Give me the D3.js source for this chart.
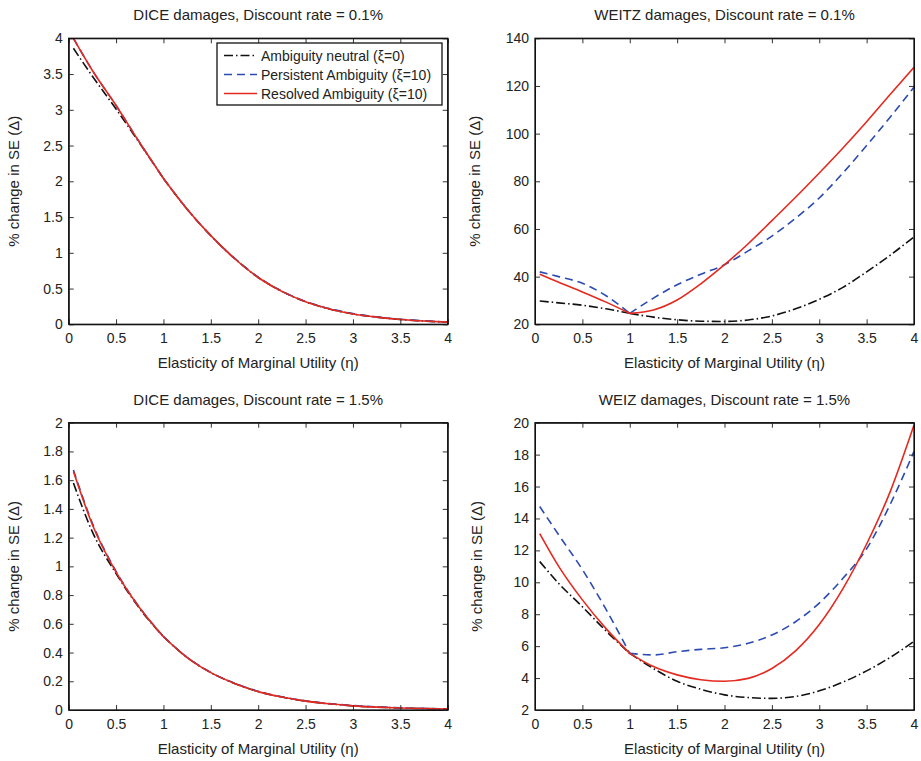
<!DOCTYPE html>
<html>
<head>
<meta charset="utf-8">
<script src="https://cdn.jsdelivr.net/npm/d3@7"></script>
<style>
  body { margin: 0; background: #fff; }
  svg { font-family: "Liberation Sans", Arial, Helvetica, sans-serif; }
  .tick text { font-size: 14px; fill: #222; }
</style>
</head>
<body>
<svg id="chart" width="921" height="761"></svg>
<script>
// valores (eta = elasticidad de la utilidad marginal)
var eta = [0.05, 0.25, 0.5, 0.75, 1, 1.25, 1.5, 1.75, 2, 2.25, 2.5, 2.75, 3, 3.25, 3.5, 3.75, 4];

var diceLowNeutral    = [3.86, 3.47, 3.01, 2.53, 2.04, 1.61, 1.24, 0.92, 0.655, 0.46, 0.315, 0.215, 0.145, 0.1, 0.068, 0.046, 0.03];
var diceLowPersistent = [4.0, 3.55, 3.06, 2.54, 2.04, 1.61, 1.24, 0.925, 0.66, 0.465, 0.32, 0.22, 0.15, 0.104, 0.07, 0.048, 0.032];
var diceLowResolved   = [4.0, 3.55, 3.06, 2.54, 2.04, 1.61, 1.24, 0.92, 0.655, 0.46, 0.315, 0.215, 0.145, 0.1, 0.068, 0.046, 0.03];

var weitzLowNeutral    = [29.8, 29.0, 28.0, 26.5, 24.6, 23.0, 21.9, 21.3, 21.2, 21.8, 23.5, 26.5, 30.5, 35.5, 42.0, 49.0, 56.7];
var weitzLowPersistent = [42.0, 40.0, 37.2, 32.0, 24.6, 31.0, 36.6, 41.0, 45.0, 50.8, 57.0, 64.5, 73.0, 83.5, 95.0, 107.0, 119.5];
var weitzLowResolved   = [41.0, 37.6, 33.6, 29.3, 24.6, 26.0, 30.2, 37.0, 45.0, 53.8, 63.5, 73.3, 83.5, 94.0, 105.0, 116.5, 127.8];

var diceHighNeutral    = [1.58, 1.24, 0.95, 0.705, 0.51, 0.365, 0.26, 0.185, 0.128, 0.09, 0.062, 0.043, 0.029, 0.02, 0.014, 0.01, 0.007];
var diceHighPersistent = [1.67, 1.3, 0.965, 0.712, 0.512, 0.367, 0.262, 0.187, 0.13, 0.092, 0.064, 0.045, 0.031, 0.022, 0.015, 0.011, 0.008];
var diceHighResolved   = [1.66, 1.29, 0.96, 0.71, 0.51, 0.365, 0.26, 0.185, 0.128, 0.09, 0.062, 0.043, 0.029, 0.02, 0.014, 0.01, 0.007];

var weizHighNeutral    = [11.3, 9.93, 8.47, 6.95, 5.55, 4.6, 3.8, 3.3, 2.95, 2.78, 2.73, 2.85, 3.2, 3.75, 4.45, 5.3, 6.3];
var weizHighPersistent = [14.75, 12.97, 10.8, 8.3, 5.55, 5.45, 5.65, 5.8, 5.9, 6.18, 6.7, 7.53, 8.7, 10.25, 12.1, 14.9, 18.2];
var weizHighResolved   = [13.05, 11.0, 8.9, 7.1, 5.55, 4.72, 4.2, 3.9, 3.8, 3.98, 4.6, 5.7, 7.35, 9.6, 12.4, 15.7, 19.85];

var xTicks = [0, 0.5, 1, 1.5, 2, 2.5, 3, 3.5, 4];
var yTicksDiceLow  = [0, 0.5, 1, 1.5, 2, 2.5, 3, 3.5, 4];
var yTicksWeitzLow = [20, 40, 60, 80, 100, 120, 140];
var yTicksDiceHigh = [0, 0.2, 0.4, 0.6, 0.8, 1, 1.2, 1.4, 1.6, 1.8, 2];
var yTicksWeizHigh = [2, 4, 6, 8, 10, 12, 14, 16, 18, 20];

var titles = [
  "DICE damages, Discount rate = 0.1%",
  "WEITZ damages, Discount rate = 0.1%",
  "DICE damages, Discount rate = 1.5%",
  "WEIZ damages, Discount rate = 1.5%"
];
var legendLabels = ["Ambiguity neutral (\u03BE=0)", "Persistent Ambiguity (\u03BE=10)", "Resolved Ambiguity (\u03BE=10)"];
var xLabel = "Elasticity of Marginal Utility (\u03B7)";
var yLabel = "% change in SE (\u0394)";

// estilos de cada serie
var styles = [
  { color: "#111111", dash: "9,3,1.5,3" },
  { color: "#2c4bb2", dash: "8,5" },
  { color: "#e5291f", dash: null }
];

var panels = [
  { title: titles[0], x0: 68.7, x1: 447.7, y0: 38.3, y1: 324.3, yDomain: [0, 4], yTicks: yTicksDiceLow, yOff: 50,
    series: [diceLowNeutral, diceLowPersistent, diceLowResolved], legend: true },
  { title: titles[1], x0: 535, x1: 914, y0: 38.3, y1: 324.3, yDomain: [20, 140], yTicks: yTicksWeitzLow, yOff: 55,
    series: [weitzLowNeutral, weitzLowPersistent, weitzLowResolved] },
  { title: titles[2], x0: 68.7, x1: 447.7, y0: 422.7, y1: 710, yDomain: [0, 2], yTicks: yTicksDiceHigh, yOff: 50,
    series: [diceHighNeutral, diceHighPersistent, diceHighResolved] },
  { title: titles[3], x0: 535, x1: 914, y0: 422.7, y1: 710, yDomain: [2, 20], yTicks: yTicksWeizHigh, yOff: 53,
    series: [weizHighNeutral, weizHighPersistent, weizHighResolved] }
];

var svg = d3.select("#chart");

panels.forEach(function(p, k) {
  var xScale = d3.scaleLinear().domain([0, 4]).range([p.x0, p.x1]);
  var yScale = d3.scaleLinear().domain(p.yDomain).range([p.y1, p.y0]);
  var grp = svg.append("g");

  // clip
  var clipId = "clip" + k;
  grp.append("clipPath").attr("id", clipId)
    .append("rect")
    .attr("x", p.x0).attr("y", p.y0 - 1)
    .attr("width", p.x1 - p.x0).attr("height", p.y1 - p.y0 + 1);

  var line = d3.line()
    .x(function(d) { return xScale(d[0]); })
    .y(function(d) { return yScale(d[1]); })
    .curve(d3.curveMonotoneX);

  // cada serie en dos tramos: eta <= 1 y eta >= 1
  p.series.forEach(function(vals, i) {
    var pts = eta.map(function(e, j) { return [e, vals[j]]; });
    var tramos = [pts.filter(function(d) { return d[0] <= 1; }), pts.filter(function(d) { return d[0] >= 1; })];
    tramos.forEach(function(t) {
      grp.append("path")
        .datum(t)
        .attr("clip-path", "url(#" + clipId + ")")
        .attr("d", line)
        .attr("fill", "none")
        .attr("stroke", styles[i].color)
        .attr("stroke-width", 1.6)
        .attr("stroke-dasharray", styles[i].dash);
    });
  });

  // Ejes (ticks hacia adentro, estilo matlab)
  grp.append("g")
    .attr("transform", "translate(0," + p.y1 + ")")
    .call(d3.axisBottom(xScale).tickValues(xTicks).tickSizeInner(-5).tickSizeOuter(0).tickPadding(9)
      .tickFormat(function(d) { return d; }));
  grp.append("g")
    .attr("transform", "translate(0," + p.y0 + ")")
    .call(d3.axisTop(xScale).tickValues(xTicks).tickSizeInner(-5).tickSizeOuter(0).tickFormat(""));
  grp.append("g")
    .attr("transform", "translate(" + p.x0 + ",0)")
    .call(d3.axisLeft(yScale).tickValues(p.yTicks).tickSizeInner(-5).tickSizeOuter(0).tickPadding(6)
      .tickFormat(function(d) { return d; }));
  grp.append("g")
    .attr("transform", "translate(" + p.x1 + ",0)")
    .call(d3.axisRight(yScale).tickValues(p.yTicks).tickSizeInner(-5).tickSizeOuter(0).tickFormat(""));

  grp.selectAll(".domain").attr("stroke", "#111");
  grp.selectAll(".tick line").attr("stroke", "#333");

  grp.append("rect")
    .attr("x", p.x0).attr("y", p.y0)
    .attr("width", p.x1 - p.x0).attr("height", p.y1 - p.y0)
    .attr("fill", "none").attr("stroke", "#111").attr("stroke-width", 1.3);

  // titulos
  var cx = (p.x0 + p.x1) / 2;
  grp.append("text")
    .attr("x", cx).attr("y", p.y0 - 18)
    .attr("text-anchor", "middle")
    .attr("font-size", 15).attr("fill", "#222")
    .text(p.title);
  grp.append("text")
    .attr("x", cx).attr("y", p.y1 + 44)
    .attr("text-anchor", "middle")
    .attr("font-size", 15).attr("fill", "#222")
    .text(xLabel);
  grp.append("text")
    .attr("transform", "translate(" + (p.x0 - p.yOff) + "," + ((p.y0 + p.y1) / 2) + ") rotate(-90)")
    .attr("text-anchor", "middle")
    .attr("font-size", 15).attr("fill", "#222")
    .text(yLabel);

  // leyenda
  if (p.legend) {
    var lg = grp.append("g").attr("transform", "translate(217,43)");
    lg.append("rect")
      .attr("width", 225).attr("height", 62)
      .attr("fill", "#fff").attr("stroke", "#111").attr("stroke-width", 1.3);
    legendLabels.forEach(function(lbl, i) {
      var yy = 12.5 + i * 19;
      lg.append("line")
        .attr("x1", 7).attr("x2", 40).attr("y1", yy).attr("y2", yy)
        .attr("stroke", styles[i].color).attr("stroke-width", 1.6)
        .attr("stroke-dasharray", styles[i].dash);
      lg.append("text")
        .attr("x", 44).attr("y", yy + 5)
        .attr("font-size", 14).attr("fill", "#222")
        .text(lbl);
    });
  }
});
</script>
</body>
</html>
